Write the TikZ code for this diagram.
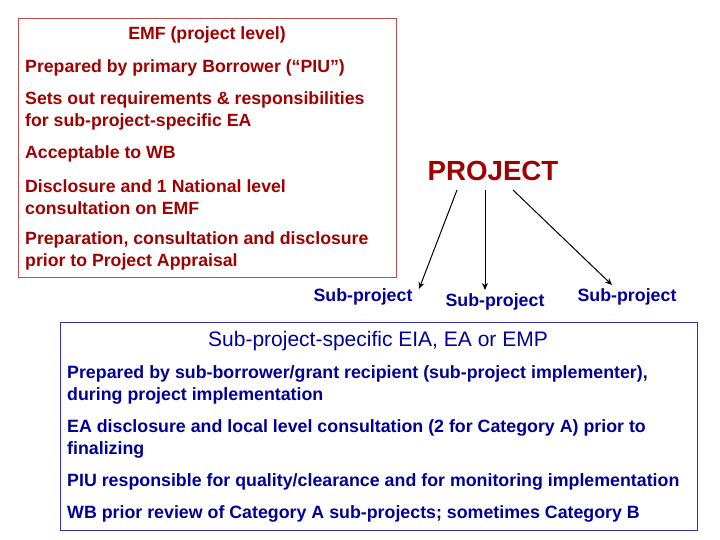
\documentclass[tikz,border=0pt]{standalone}
\usepackage{fontspec}
\usetikzlibrary{arrows.meta}
\setmainfont{Liberation Sans}
\definecolor{dred}{HTML}{A00000}
\definecolor{dblue}{HTML}{000099}
\begin{document}
\begin{tikzpicture}[x=1pt,y=-1pt,
  rt/.style={anchor=west,text=dred,font=\fontsize{17.7}{22}\selectfont\bfseries,inner sep=0pt,align=left},
  bt/.style={anchor=west,text=dblue,font=\fontsize{17.8}{22}\selectfont\bfseries,inner sep=0pt,align=left},
  arr/.style={-{Stealth[length=7pt,width=6pt]},line width=1pt}]
\useasboundingbox (0,0) rectangle (720,540);
\draw[draw=dred!70,line width=0.6pt] (18,18) rectangle (396,277);
\draw[draw=dblue!80,line width=0.8pt] (60,322) rectangle (697,530);
\node[rt,anchor=center] (t1) at (207,35) {EMF (project level)};
\node[rt] (a) at (25,68) {Prepared by primary Borrower (“PIU”)};
\node[rt] (b) at (25,111) {Sets out requirements \& responsibilities\\for sub-project-specific EA};
\node[rt] (c) at (25,154) {Acceptable to WB};
\node[rt] (d) at (25,197) {Disclosure and 1 National level\\consultation on EMF};
\node[rt] (e) at (25,251) {Preparation, consultation and disclosure\\prior to Project Appraisal};
\node[text=dred,font=\fontsize{27.7}{32}\selectfont\bfseries,inner sep=0pt] (p) at (493,171) {PROJECT};
\node[bt,anchor=center] (s1) at (363,297) {Sub-project};
\node[bt,anchor=center] (s2) at (495,302) {Sub-project};
\node[bt,anchor=center] (s3) at (627,297) {Sub-project};
\coordinate (p1) at (457,190); \coordinate (p2) at (485,190); \coordinate (p3) at (513,190);
\coordinate (e1) at (419,289); \coordinate (e2) at (485,290); \coordinate (e3) at (612,285);
\draw[arr] (p1) -- (e1); \draw[arr] (p2) -- (e2); \draw[arr] (p3) -- (e3);
\node[text=dblue,font=\fontsize{21}{25}\selectfont,inner sep=0pt] (bt1) at (378,341) {Sub-project-specific EIA, EA or EMP};
\node[bt] (f) at (67,385) {Prepared by sub-borrower/grant recipient (sub-project implementer),\\during project implementation};
\node[bt] (g) at (67,439) {EA disclosure and local level consultation (2 for Category A) prior to\\finalizing};
\node[bt] (h) at (67,482) {PIU responsible for quality/clearance and for monitoring implementation};
\node[bt] (i) at (67,514) {WB prior review of Category A sub-projects; sometimes Category B};
\end{tikzpicture}
\end{document}
